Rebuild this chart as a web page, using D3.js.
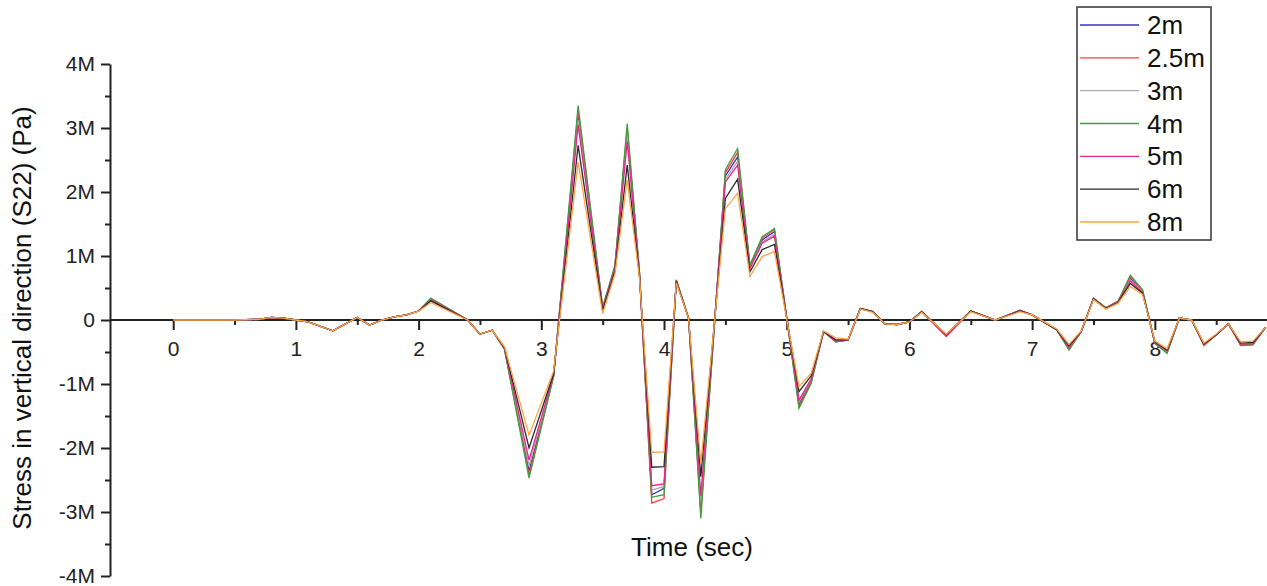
<!DOCTYPE html>
<html>
<head>
<meta charset="utf-8">
<script src="https://cdn.jsdelivr.net/npm/d3@7"></script>
<style>
  body { margin: 0; background: #fff; }
  svg { display: block; font-family: "Liberation Sans", Arial, sans-serif; }
</style>
</head>
<body>
<div id="chart"></div>
<script>
// time points (sec) where the traces have a vertex
var times = [0,0.5,0.7,0.8,0.9,1.0,1.1,1.3,1.5,1.6,1.7,1.8,1.9,2.0,2.1,2.4,2.5,2.6,2.7,2.9,
             3.1,3.3,3.5,3.6,3.7,3.8,3.9,4.0,4.1,4.2,4.3,4.5,4.6,4.7,4.8,4.9,5.1,5.2,5.3,5.4,
             5.5,5.6,5.7,5.8,5.9,6.0,6.1,6.3,6.5,6.7,6.9,7.0,7.2,7.3,7.4,7.5,7.6,7.7,7.8,7.9,
             8.0,8.1,8.2,8.3,8.4,8.5,8.6,8.7,8.8,8.9];

// S22 in MPa, one list per depth
var s2m  = [0,0,0.01,0.04,0.03,0,-0.03,-0.17,0.04,-0.08,0,0.05,0.08,0.14,0.33,0,-0.22,-0.16,-0.45,-2.36,
            -0.87,3.20,0.18,0.83,2.95,0.73,-2.73,-2.63,0.62,0.03,-2.95,2.25,2.55,0.83,1.25,1.38,-1.31,-0.95,-0.18,-0.34,
            -0.31,0.18,0.13,-0.06,-0.07,-0.03,0.13,-0.23,0.14,0,0.15,0.08,-0.15,-0.45,-0.18,0.34,0.19,0.29,0.65,0.45,
            -0.36,-0.50,0.03,0,-0.39,-0.23,-0.06,-0.39,-0.38,-0.12];
var s25m = [0,0,0.01,0.04,0.03,0,-0.03,-0.17,0.04,-0.08,0,0.05,0.08,0.14,0.34,0,-0.22,-0.16,-0.45,-2.42,
            -0.88,3.28,0.19,0.84,3.00,0.74,-2.86,-2.79,0.62,0.03,-3.02,2.30,2.62,0.85,1.28,1.41,-1.35,-0.97,-0.18,-0.34,
            -0.31,0.18,0.13,-0.06,-0.07,-0.03,0.13,-0.24,0.14,0,0.15,0.08,-0.15,-0.46,-0.18,0.34,0.19,0.29,0.68,0.46,
            -0.37,-0.51,0.03,0,-0.40,-0.23,-0.06,-0.40,-0.39,-0.12];
var s3m  = [0,0,0.01,0.04,0.03,0,-0.03,-0.17,0.04,-0.08,0,0.05,0.08,0.14,0.32,0,-0.22,-0.16,-0.44,-2.28,
            -0.86,3.12,0.17,0.81,2.88,0.72,-2.66,-2.60,0.61,0.03,-2.85,2.20,2.48,0.81,1.22,1.34,-1.28,-0.93,-0.18,-0.33,
            -0.31,0.18,0.13,-0.06,-0.07,-0.03,0.13,-0.23,0.14,0,0.15,0.08,-0.15,-0.44,-0.18,0.34,0.19,0.28,0.63,0.44,
            -0.35,-0.49,0.03,0,-0.38,-0.23,-0.06,-0.38,-0.37,-0.12];
var s4m  = [0,0,0.01,0.04,0.03,0,-0.03,-0.17,0.04,-0.08,0,0.05,0.08,0.14,0.34,0,-0.22,-0.16,-0.46,-2.47,
            -0.88,3.35,0.20,0.85,3.07,0.75,-2.77,-2.73,0.63,0.03,-3.10,2.35,2.68,0.86,1.30,1.43,-1.38,-0.99,-0.18,-0.34,
            -0.31,0.18,0.13,-0.06,-0.07,-0.03,0.13,-0.23,0.14,0,0.15,0.08,-0.15,-0.47,-0.18,0.34,0.19,0.29,0.70,0.47,
            -0.36,-0.52,0.03,0,-0.39,-0.23,-0.06,-0.39,-0.38,-0.12];
var s5m  = [0,0,0.01,0.04,0.03,0,-0.03,-0.17,0.04,-0.08,0,0.05,0.08,0.14,0.31,0,-0.22,-0.16,-0.44,-2.19,
            -0.86,3.05,0.17,0.80,2.79,0.71,-2.59,-2.56,0.61,0.03,-2.75,2.16,2.42,0.80,1.20,1.31,-1.25,-0.92,-0.18,-0.33,
            -0.31,0.18,0.13,-0.06,-0.07,-0.03,0.13,-0.26,0.14,0,0.15,0.08,-0.15,-0.43,-0.18,0.33,0.18,0.28,0.61,0.43,
            -0.35,-0.48,0.03,0,-0.38,-0.23,-0.06,-0.38,-0.37,-0.12];
var s6m  = [0,0,0.01,0.04,0.03,0,-0.03,-0.17,0.04,-0.08,0,0.05,0.08,0.14,0.30,0,-0.22,-0.16,-0.43,-2.00,
            -0.84,2.73,0.15,0.76,2.42,0.68,-2.30,-2.29,0.60,0.03,-2.45,1.90,2.20,0.75,1.10,1.18,-1.12,-0.87,-0.18,-0.31,
            -0.31,0.18,0.13,-0.06,-0.07,-0.03,0.13,-0.23,0.14,0,0.14,0.08,-0.15,-0.40,-0.18,0.33,0.18,0.27,0.57,0.42,
            -0.34,-0.47,0.03,0,-0.37,-0.23,-0.06,-0.36,-0.35,-0.12];
var s8m  = [0,0,0.01,0.04,0.03,0,-0.03,-0.17,0.04,-0.08,0,0.05,0.08,0.14,0.27,0,-0.22,-0.16,-0.42,-1.80,
            -0.80,2.47,0.10,0.72,2.19,0.65,-2.07,-2.06,0.58,0.03,-2.24,1.74,1.98,0.68,0.99,1.07,-1.04,-0.83,-0.17,-0.28,
            -0.30,0.17,0.12,-0.06,-0.07,-0.03,0.12,-0.22,0.13,0,0.13,0.08,-0.14,-0.38,-0.17,0.32,0.17,0.26,0.52,0.40,
            -0.33,-0.45,0.03,0,-0.36,-0.22,-0.06,-0.34,-0.33,-0.12];

var seriesNames  = ["2m", "2.5m", "3m", "4m", "5m", "6m", "8m"];
var seriesValues = [s2m, s25m, s3m, s4m, s5m, s6m, s8m];
var seriesColors = ["#3636c4", "#ff3c3c", "#aaaaaa", "#3f9f3f", "#e8258c", "#2a2a2a", "#ffa445"];

var xTicks      = [0, 1, 2, 3, 4, 5, 6, 7, 8];
var xMinorTicks = [0.5, 1.5, 2.5, 3.5, 4.5, 5.5, 6.5, 7.5, 8.5];
var yTicks      = [-4, -3, -2, -1, 0, 1, 2, 3, 4];
var yTickLabels = ["-4M", "-3M", "-2M", "-1M", "0", "1M", "2M", "3M", "4M"];
var yMinorTicks = [-3.5, -2.5, -1.5, -0.5, 0.5, 1.5, 2.5, 3.5];

var W = 1267, H = 586;
var svg = d3.select("#chart").append("svg")
    .attr("width", W)
    .attr("height", H);

var x = d3.scaleLinear().domain([-0.515, 8.914]).range([110, 1267]);
var y = d3.scaleLinear().domain([-4, 4]).range([576, 64]);

// axes first, traces go over them like in the original
var axisColor = "#222";

var gx = svg.append("g")
    .attr("transform", "translate(0," + y(0) + ")")
    .call(d3.axisBottom(x).tickValues(xTicks).tickSize(10).tickPadding(11)
          .tickSizeOuter(0).tickFormat(d3.format("d")));
var gxm = svg.append("g")
    .attr("transform", "translate(0," + y(0) + ")")
    .call(d3.axisBottom(x).tickValues(xMinorTicks).tickSize(5).tickFormat(""));
gxm.select(".domain").remove();

var gy = svg.append("g")
    .attr("transform", "translate(110,0)")
    .call(d3.axisLeft(y).tickValues(yTicks).tickSize(9).tickPadding(6)
          .tickSizeOuter(0).tickFormat(function(d, i) { return yTickLabels[i]; }));
var gym = svg.append("g")
    .attr("transform", "translate(110,0)")
    .call(d3.axisLeft(y).tickValues(yMinorTicks).tickSize(5).tickFormat(""));
gym.select(".domain").remove();

gx.select(".domain").attr("d", "M110,0H1267");

[gx, gxm, gy, gym].forEach(function(g) {
  g.selectAll(".domain, .tick line").attr("stroke", axisColor).attr("stroke-width", 2);
  g.selectAll(".tick text")
    .attr("fill", axisColor)
    .style("font-size", "21px")
    .style("font-family", "'Liberation Sans', Arial, sans-serif");
});

// traces
var line = d3.line()
    .x(function(d) { return x(d[0]); })
    .y(function(d) { return y(d[1]); });

seriesValues.forEach(function(vals, i) {
  svg.append("path")
    .datum(times.map(function(t, j) { return [t, vals[j]]; }))
    .attr("fill", "none")
    .attr("stroke", seriesColors[i])
    .attr("stroke-width", 1.3)
    .attr("d", line);
});

// titles
svg.append("text")
    .attr("x", 692)
    .attr("y", 556)
    .attr("text-anchor", "middle")
    .attr("fill", "#111")
    .style("font-size", "26px")
    .text("Time (sec)");

svg.append("text")
    .attr("transform", "translate(31,318) rotate(-90)")
    .attr("text-anchor", "middle")
    .attr("fill", "#111")
    .style("font-size", "26px")
    .text("Stress in vertical direction (S22) (Pa)");

// legend
var lg = svg.append("g");
lg.append("rect")
    .attr("x", 1077).attr("y", 7)
    .attr("width", 134).attr("height", 233)
    .attr("fill", "#fff")
    .attr("stroke", "#333")
    .attr("stroke-width", 1.5);

var ly = d3.scalePoint().domain(seriesNames).range([25, 222]);
seriesNames.forEach(function(name, i) {
  lg.append("line")
    .attr("x1", 1080).attr("x2", 1139)
    .attr("y1", ly(name)).attr("y2", ly(name))
    .attr("stroke", seriesColors[i])
    .attr("stroke-width", 1.4);
  lg.append("text")
    .attr("x", 1147)
    .attr("y", ly(name) + 9)
    .attr("fill", "#111")
    .style("font-size", "26px")
    .text(name);
});
</script>
</body>
</html>
